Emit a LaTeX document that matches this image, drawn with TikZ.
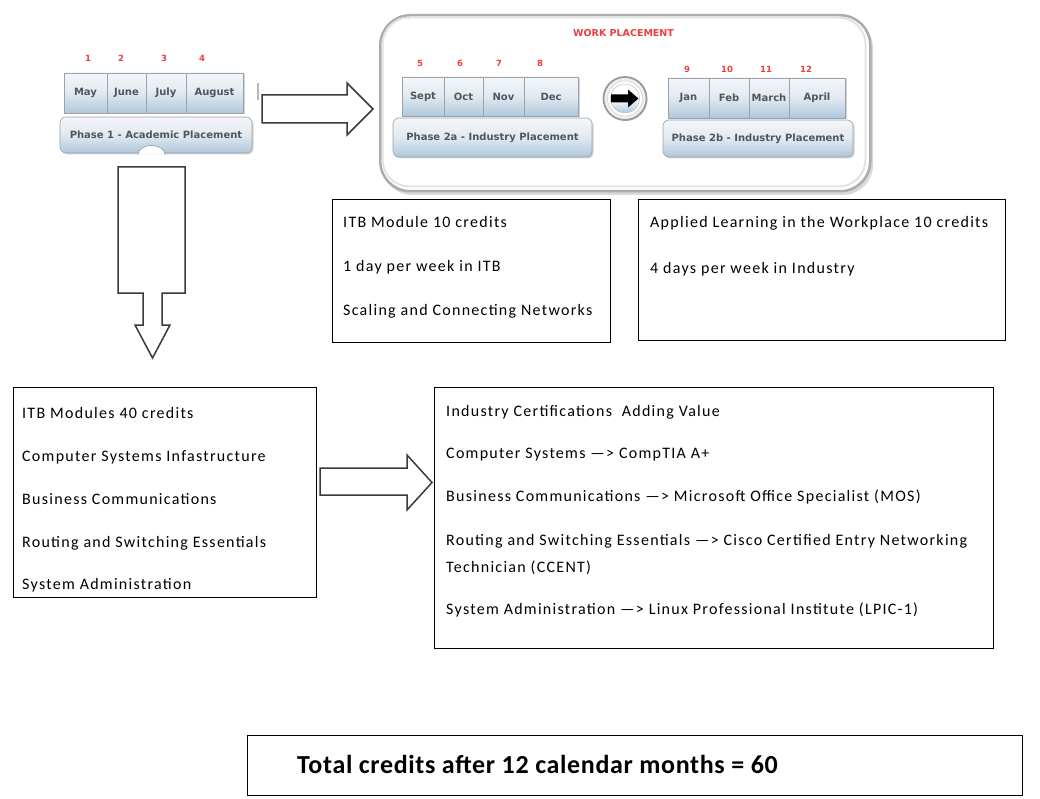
\documentclass[tikz,border=0pt]{standalone}
\usepackage{fontspec}
\setmainfont{Carlito}
\newfontfamily\boxfont[LetterSpace=8]{Carlito}
\newfontfamily\totalfont[LetterSpace=2.5]{Carlito}
\newfontfamily\uifont{DejaVu Sans}
\usetikzlibrary{shadows}
\definecolor{tabtop}{HTML}{F4F6F9}
\definecolor{tabmid}{HTML}{E1E9F0}
\definecolor{tabbot}{HTML}{AFC7DC}
\definecolor{tabedge}{HTML}{9AA3AC}
\definecolor{tabtext}{HTML}{4E5661}
\definecolor{numred}{HTML}{F03C3C}
\definecolor{arrowedge}{HTML}{3A3A3A}
\begin{document}
\begin{tikzpicture}[x=1pt,y=-1pt,
  tab/.style={draw=tabedge, line width=0.6pt, top color=tabtop, bottom color=tabbot, middle color=tabmid,
    inner sep=0pt, font=\uifont\bfseries\fontsize{10}{12}\selectfont, text=tabtext,
    drop shadow={shadow xshift=1.5pt, shadow yshift=-1.5pt, opacity=0.35}},
  bar/.style={tab, rounded corners=6pt},
  num/.style={font=\uifont\bfseries\fontsize{8.5}{10}\selectfont, text=numred, inner sep=0pt},
  boxnode/.style={draw=black, line width=1.2pt, fill=white, inner sep=0pt, anchor=north west},
  txt/.style={anchor=base west, inner sep=0pt, font=\boxfont\fontsize{16}{19}\selectfont},
  blockarrow/.style={draw=arrowedge, line width=1.5pt, fill=white, line join=miter},
  wpbox/.style={draw=gray!65, line width=2.5pt, fill=white, rounded corners=30pt, inner sep=0pt, anchor=north west}
]
\useasboundingbox (0,0) rectangle (1040,799);

% ---------- Phase 1 ----------
\node[num] (n1) at (88,58) {1};
\node[num] (n2) at (121,58) {2};
\node[num] (n3) at (164,58) {3};
\node[num] (n4) at (202,58) {4};
\node[tab, minimum width=43pt, minimum height=40pt] (may) at (85.5,93) {May};
\node[tab, minimum width=39pt, minimum height=40pt] (june) at (126.5,93) {June};
\node[tab, minimum width=40pt, minimum height=40pt] (july) at (166,93) {July};
\node[tab, minimum width=57pt, minimum height=40pt] (aug) at (214.5,93) {August};
\node[bar, minimum width=192pt, minimum height=36pt] (ph1) at (156,135) {Phase 1 - Academic Placement};
\fill[white] (138,154.5) arc[start angle=180, end angle=360, x radius=13.5, y radius=9];
\draw[tabedge, line width=0.7pt] (138,154.5) arc[start angle=180, end angle=360, x radius=13.5, y radius=9];
\draw[gray!55, line width=1.2pt] (258,83) -- (258,100);

% ---------- Arrow phase1 -> work placement ----------
\draw[blockarrow] (262,95) -- (347,95) -- (347,83) -- (373,109) -- (347,135) -- (347,123) -- (262,123) -- cycle;

% ---------- Work placement ----------
\fill[gray!30, rounded corners=30pt] (382,18) rectangle (873,195);
\node[wpbox, minimum width=490pt, minimum height=176pt] (wp) at (379,14) {};
\draw[gray!22, line width=2pt, rounded corners=27pt] (382.5,17.5) rectangle (865.5,186.5);
\node[font=\uifont\bfseries\fontsize{9.5}{11}\selectfont, text=numred, inner sep=0pt] (wpt) at (623.5,33) {WORK PLACEMENT};

\node[num] (n5) at (420,63) {5};
\node[num] (n6) at (460,63) {6};
\node[num] (n7) at (499,63) {7};
\node[num] (n8) at (540,63) {8};
\node[tab, minimum width=42pt, minimum height=39pt] (sep) at (423,96.5) {Sept};
\node[tab, minimum width=39pt, minimum height=39pt] (oct) at (463.5,96.5) {Oct};
\node[tab, minimum width=41pt, minimum height=39pt] (nov) at (503.5,96.5) {Nov};
\node[tab, minimum width=54pt, minimum height=39pt] (dec) at (551,96.5) {Dec};
\node[bar, minimum width=199pt, minimum height=39pt] (ph2a) at (492.5,137.5) {Phase 2a - Industry Placement};

\node[circle, draw=gray!80, line width=1.8pt, fill=gray!12, minimum size=43pt, inner sep=0pt,
      drop shadow={shadow xshift=1pt, shadow yshift=-1pt, opacity=0.3}] (btn) at (625,98.5) {};
\node[circle, draw=gray!35, line width=0.6pt, fill=white, minimum size=35pt, inner sep=0pt] (btnb) at (625,98.5) {};
\node[circle, draw=gray!50, line width=0.5pt, top color=white, bottom color=tabbot, middle color=white, minimum size=29pt, inner sep=0pt] (btnc) at (625,98.5) {};
\fill[black] (611,94.5) -- (628,94.5) -- (628,89.5) -- (638.5,98.5) -- (628,107.5) -- (628,102.5) -- (611,102.5) -- cycle;

\node[num] (n9) at (687,69) {9};
\node[num] (n10) at (727,69) {10};
\node[num] (n11) at (766,69) {11};
\node[num] (n12) at (806,69) {12};
\node[tab, minimum width=41pt, minimum height=40pt] (jan) at (688.5,98) {Jan};
\node[tab, minimum width=40pt, minimum height=40pt] (feb) at (729,98) {Feb};
\node[tab, minimum width=40pt, minimum height=40pt] (mar) at (769,98) {March};
\node[tab, minimum width=56pt, minimum height=40pt] (apr) at (817,98) {April};
\node[bar, minimum width=190pt, minimum height=37pt] (ph2b) at (758,138.5) {Phase 2b - Industry Placement};

% ---------- Down arrow ----------
\draw[blockarrow] (118,167) -- (185,167) -- (185,293) -- (162,293) -- (162,325) -- (170,325) -- (152.5,358)
  -- (135,325) -- (143,325) -- (143,293) -- (118,293) -- cycle;

% ---------- Boxes ----------
\node[boxnode, minimum width=278pt, minimum height=143pt] (itb10) at (332,199) {};
\node[txt] (itb10a) at (343,228) {ITB Module 10 credits};
\node[txt] (itb10b) at (343,272) {1 day per week in ITB};
\node[txt] (itb10c) at (343,316) {Scaling and Connecting Networks};

\node[boxnode, minimum width=367pt, minimum height=141pt] (alw) at (638,199) {};
\node[txt] (alwa) at (650,228) {Applied Learning in the Workplace 10 credits};
\node[txt] (alwb) at (650,273) {4 days per week in Industry};

\node[boxnode, minimum width=303pt, minimum height=210pt] (itb40) at (13,387) {};
\node[txt] (itb40a) at (22,418) {ITB Modules 40 credits};
\node[txt] (itb40b) at (22,461) {Computer Systems Infastructure};
\node[txt] (itb40c) at (22,504) {Business Communications};
\node[txt] (itb40d) at (22,547) {Routing and Switching Essentials};
\node[txt] (itb40e) at (22,589) {System Administration};

\draw[blockarrow] (320,468) -- (407,468) -- (407,455) -- (432,482.5) -- (407,510) -- (407,495) -- (320,495) -- cycle;

\node[boxnode, minimum width=559pt, minimum height=261pt] (cert) at (434,387) {};
\node[txt] (certa) at (446,416) {Industry Certifications\ \ Adding Value};
\node[txt] (certb) at (446,458) {Computer Systems —> CompTIA A+};
\node[txt] (certc) at (446,501) {Business Communications —> Microsoft Office Specialist (MOS)};
\node[txt] (certd) at (446,545) {Routing and Switching Essentials\ —> Cisco Certified Entry Networking};
\node[txt] (certe) at (446,572) {Technician (CCENT)};
\node[txt] (certf) at (446,614) {System Administration\ —> Linux Professional Institute (LPIC-1)};

\node[boxnode, minimum width=775pt, minimum height=60pt] (total) at (247,735) {};
\node[anchor=base west, inner sep=0pt, font=\totalfont\bfseries\fontsize{26}{30}\selectfont] (totalt) at (297,773) {Total credits after 12 calendar months = 60};
\end{tikzpicture}
\end{document}
